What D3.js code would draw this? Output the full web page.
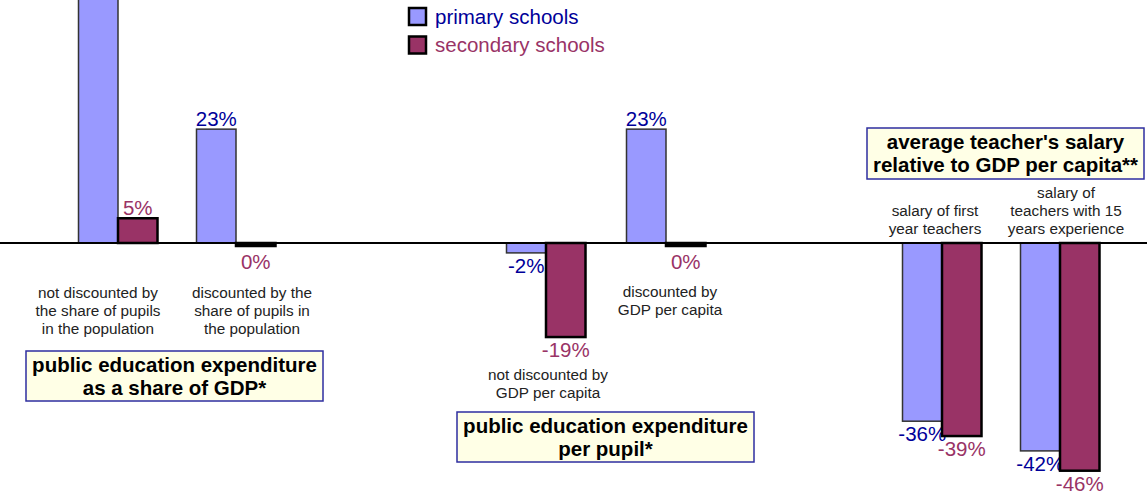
<!DOCTYPE html>
<html><head><meta charset="utf-8">
<script src="https://cdn.jsdelivr.net/npm/d3@7"></script>
<style>
html,body{margin:0;padding:0;background:#fff;}
svg{display:block;font-family:"Liberation Sans",Arial,sans-serif;}
</style></head>
<body><svg id="c" width="1147" height="493"></svg>
<script>
// ---- data ----
const series = ["primary schools", "secondary schools"];
const sectionTitles = [
  ["public education expenditure", "as a share of GDP*"],
  ["public education expenditure", "per pupil*"],
  ["average teacher's salary", "relative to GDP per capita**"]
];
const categories = [
  ["not discounted by the share of pupils in the population", "discounted by the share of pupils in the population"],
  ["not discounted by GDP per capita", "discounted by GDP per capita"],
  ["salary of first year teachers", "salary of teachers with 15 years experience"]
];
const categoryLines = [
  [["not discounted by", "the share of pupils", "in the population"], ["discounted by the", "share of pupils in", "the population"]],
  [["not discounted by", "GDP per capita"], ["discounted by", "GDP per capita"]],
  [["salary of first", "year teachers"], ["salary of", "teachers with 15", "years experience"]]
];
const primaryValues = [[55, 23], [-2, 23], [-36, -42]];
const secondaryValues = [[5, 0], [-19, 0], [-39, -46]];

// ---- layout ----
const W = 1147, H = 493;
const colors = {fill: ["#9999FF", "#993366"], stroke: ["#333333", "#000000"], text: ["#000099", "#993366"]};
const sectionRanges = [[59, 295], [486, 726], [883, 1119]];
// category label placement (dx from category centre, y of first line)
const catLabelPos = [
  [{dx: -20, y: 298}, {dx: 16, y: 298}],
  [{dx: 2, y: 380}, {dx: 4, y: 297}],
  [{dx: -7, y: 216}, {dx: 6, y: 198}]
];
const titleBoxes = [
  {x: 26, y: 351, w: 297, h: 50},
  {x: 457, y: 412, w: 297, h: 50},
  {x: 867, y: 128, w: 277, h: 51}
];

const svg = d3.select("#c");
const y = d3.scaleLinear().domain([-50, 50]).range([490.5, -4.5]);
const pct = v => `${Math.round(v)}%`;

// title boxes
titleBoxes.forEach((b, i) => {
  svg.append("rect").attr("x", b.x).attr("y", b.y).attr("width", b.w).attr("height", b.h)
    .attr("fill", "#FFFFE6").attr("stroke", "#2E2EA0").attr("stroke-width", 1.5);
  const t = svg.append("text").attr("text-anchor", "middle").attr("font-weight", "bold")
    .attr("font-size", 20.5).attr("fill", "#000");
  sectionTitles[i].forEach((line, j) => {
    t.append("tspan").attr("x", b.x + b.w / 2).attr("y", b.y + 21 + j * 23).text(line);
  });
});

categories.forEach((cats, si) => {
  const x0 = d3.scaleBand().domain(cats).range(sectionRanges[si]).padding(0);
  const x1 = d3.scaleBand().domain(series).range([-39.5, 39.5]);
  const vals = [primaryValues[si], secondaryValues[si]];
  cats.forEach((c, ci) => {
    const cx = x0(c) + x0.bandwidth() / 2;
    series.forEach((s, k) => {
      const v = vals[k][ci];
      const top = Math.min(y(v), y(0));
      let h = Math.abs(y(v) - y(0));
      const isZero = h < 1;
      svg.append("rect")
        .attr("x", cx + x1(s)).attr("y", top)
        .attr("width", x1.bandwidth()).attr("height", isZero ? 3 : h)
        .attr("fill", isZero ? "#000" : colors.fill[k])
        .attr("stroke", colors.stroke[k]).attr("stroke-width", k === 0 ? 1.5 : 2.5);
      const lx = cx + x1(s) + x1.bandwidth() / 2;
      const ly = v > 0 ? y(v) - 3 : (isZero ? y(0) + 26 : y(v) + 20);
      svg.append("text").attr("x", lx).attr("y", ly).attr("text-anchor", "middle")
        .attr("font-size", 20.5).attr("fill", colors.text[k]).text(pct(v));
    });
    // category label
    const p = catLabelPos[si][ci];
    const t = svg.append("text").attr("text-anchor", "middle").attr("font-size", 15.3).attr("fill", "#222");
    categoryLines[si][ci].forEach((line, j) => {
      t.append("tspan").attr("x", cx + p.dx).attr("y", p.y + j * 18).text(line);
    });
  });
});

// baseline
svg.append("line").attr("x1", 0).attr("x2", W).attr("y1", y(0)).attr("y2", y(0))
  .attr("stroke", "#000").attr("stroke-width", 2);

// legend
series.forEach((s, k) => {
  const g = svg.append("g").attr("transform", `translate(409,${8 + k * 28.5})`);
  g.append("rect").attr("width", 17).attr("height", 17).attr("fill", colors.fill[k])
    .attr("stroke", "#000").attr("stroke-width", 2.5);
  g.append("text").attr("x", 26).attr("y", 15.5).attr("font-size", 20.5)
    .attr("fill", colors.text[k]).text(s);
});
</script></body></html>
